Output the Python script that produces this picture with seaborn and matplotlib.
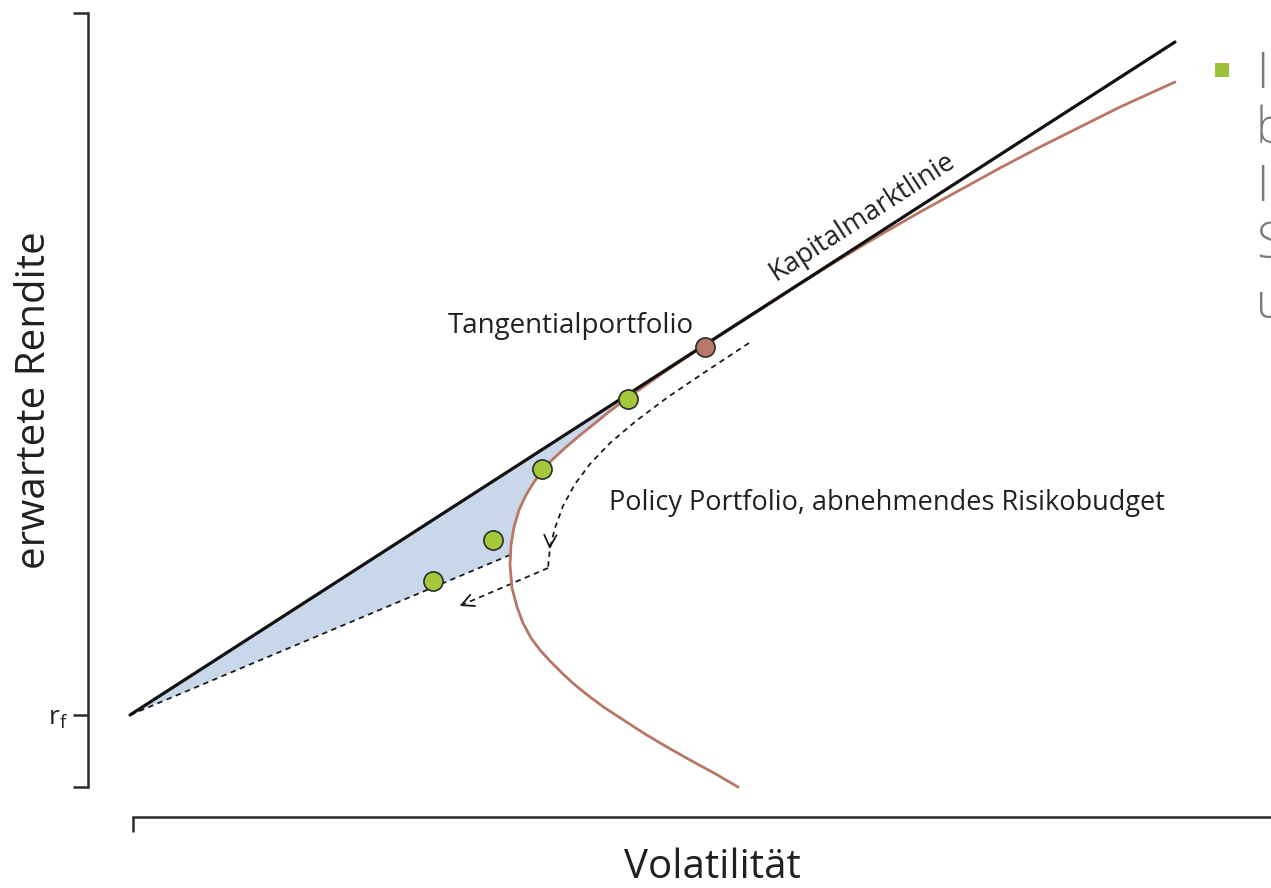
import numpy as np
import pandas as pd
import matplotlib.pyplot as plt
import seaborn as sns

# chart values (x = Volatilität, y = erwartete Rendite, r_f at 0)
cml_x = [0.0, 10.45]
cml_y = [0.0, 6.73]

front_x = [6.08, 5.84, 5.60, 5.37, 5.15, 4.95, 4.75, 4.60, 4.45, 4.32, 4.20, 4.10, 4.01,
           3.93, 3.87, 3.82, 3.80, 3.81, 3.84, 3.89, 3.96, 4.04, 4.13, 4.23, 4.35, 4.49,
           4.64, 4.80, 4.99, 5.30, 5.75, 6.30, 6.70, 7.10, 7.50, 7.90, 8.30, 8.70, 9.10,
           9.50, 9.90, 10.45]
front_y = [-0.72, -0.58, -0.45, -0.32, -0.19, -0.06, 0.07, 0.18, 0.30, 0.42, 0.54, 0.65, 0.77,
           0.92, 1.08, 1.27, 1.50, 1.70, 1.88, 2.05, 2.20, 2.33, 2.45, 2.56, 2.67, 2.79,
           2.91, 3.04, 3.18, 3.40, 3.70, 4.05, 4.31, 4.56, 4.80, 5.03, 5.25, 5.47, 5.68,
           5.88, 6.08, 6.33]

policy_x = [0.0, 3.80]
policy_y = [0.0, 1.60]

portfolio_x = [3.03, 3.63, 4.12, 4.98]
portfolio_y = [1.34, 1.75, 2.46, 3.16]

tangent_x = [5.75]
tangent_y = [3.68]

path_x = [6.19, 5.75, 5.38, 5.06, 4.80, 4.60, 4.45, 4.33, 4.25, 4.20, 4.18]
path_y = [3.72, 3.43, 3.18, 2.94, 2.72, 2.51, 2.31, 2.09, 1.87, 1.67, 1.47]
path2_x = [4.18, 3.27]
path2_y = [1.47, 1.08]

side_letters = ["I", "b", "I", "S", "u"]
side_y = [6.40, 5.85, 5.27, 4.70, 4.10]

sns.set_theme(style="ticks")
plt.rcParams["font.family"] = ["Open Sans", "DejaVu Sans"]

fig = plt.figure(figsize=(12.71, 8.88), dpi=100)
ax = fig.add_axes([0, 0, 1, 1])
ax.set_xlim(-1.30, 11.41)
ax.set_ylim(-1.73, 7.15)

txt = "#231f20"
brown = "#b87764"
dash = (0, (3, 2.5))

# shaded region between CML, frontier and dashed line
lo, hi = 17, 28
fill_x = [0.0, 4.99] + front_x[lo:hi + 1][::-1] + [policy_x[1]]
fill_y = [0.0, 3.21] + front_y[lo:hi + 1][::-1] + [policy_y[1]]
ax.fill(fill_x, fill_y, color="#c9d7eb", lw=0, zorder=1)

sns.lineplot(x=policy_x, y=policy_y, ax=ax, color="k", lw=1.3, linestyle=dash, zorder=2)
sns.lineplot(x=front_x, y=front_y, ax=ax, sort=False, estimator=None, color=brown, lw=2.0, zorder=3)
sns.lineplot(x=cml_x, y=cml_y, ax=ax, color="#111111", lw=2.3, zorder=4)

sns.lineplot(x=path_x, y=path_y, ax=ax, sort=False, estimator=None, color="k", lw=1.3,
             linestyle=dash, zorder=2)
sns.lineplot(x=path2_x, y=path2_y, ax=ax, sort=False, estimator=None, color="k", lw=1.3,
             linestyle=dash, zorder=2)
ax.annotate("", xy=(4.195, 1.63), xytext=(4.20, 1.73),
            arrowprops=dict(arrowstyle="->", color="k", lw=1.3, mutation_scale=22))
ax.annotate("", xy=(3.27, 1.08), xytext=(3.36, 1.118),
            arrowprops=dict(arrowstyle="->", color="k", lw=1.3, mutation_scale=22))

sns.scatterplot(x=portfolio_x, y=portfolio_y, ax=ax, s=190, color="#a5c83b",
                edgecolor="#2b2b2b", linewidth=1.2, zorder=5)
sns.scatterplot(x=tangent_x, y=tangent_y, ax=ax, s=190, color="#b7796a",
                edgecolor="#2b2b2b", linewidth=1.2, zorder=5)

# texts
ax.text(4.41, 3.89, "Tangentialportfolio", fontsize=20, color=txt, ha="center", va="center")
ax.text(4.79, 2.12, "Policy Portfolio, abnehmendes Risikobudget", fontsize=19.5, color=txt,
        ha="left", va="center")
ax.text(7.32, 4.98, "Kapitalmarktlinie", fontsize=19.5, color=txt, ha="center", va="center",
        rotation=32.8, rotation_mode="anchor")
ax.text(-0.95, 3.15, "erwartete Rendite", fontsize=29, color=txt, ha="center", va="center",
        rotation=90)
ax.text(5.82, -1.53, "Volatilität", fontsize=29, color=txt, ha="center", va="center")

# axis brackets
for side in ["top", "right"]:
    ax.spines[side].set_visible(False)
ax.spines["left"].set_position(("data", -0.42))
ax.spines["left"].set_bounds(-0.72, 7.02)
ax.spines["bottom"].set_position(("data", -1.02))
ax.spines["bottom"].set_bounds(0.03, 11.41)
for side in ["left", "bottom"]:
    ax.spines[side].set_linewidth(1.8)
    ax.spines[side].set_color("#2b2b2b")
ax.set_yticks([-0.72, 0.0, 7.02])
ax.set_yticklabels(["", "r$_\\mathregular{f}$", ""], fontsize=19, color=txt)
ax.set_xticks([0.03])
ax.set_xticklabels([""])
ax.tick_params(axis="both", length=11, width=1.8, color="#2b2b2b", pad=3, direction="out")

# clipped slide text at the right edge
ax.scatter([10.92], [6.45], marker="s", s=110, color="#9cc23a", lw=0, zorder=5)
for letter, yy in zip(side_letters, side_y):
    ax.text(11.26, yy, letter, fontsize=35, color="#7a7a7a", ha="left", va="center",
            fontweight="light")

ax.set_xlabel("")
ax.set_ylabel("")
fig.savefig("out.png", dpi=100)
